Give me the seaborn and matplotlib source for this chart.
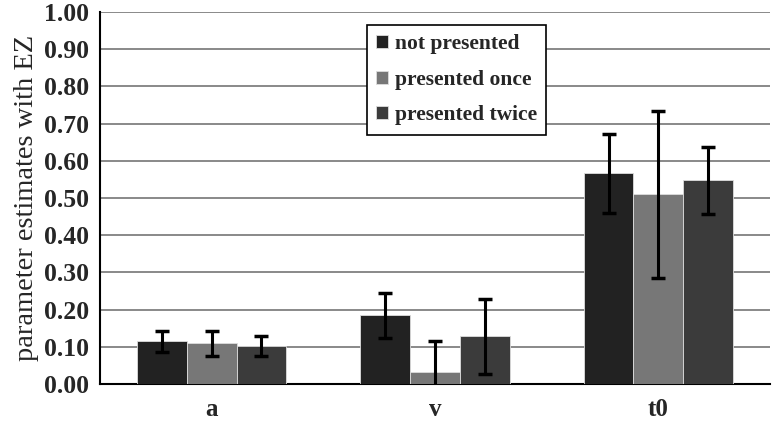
import numpy as np
import pandas as pd
import matplotlib
matplotlib.use("Agg")
import matplotlib.pyplot as plt
import seaborn as sns

# values
params = ["a", "v", "t0"]
conditions = ["not presented", "presented once", "presented twice"]
not_presented = [0.115, 0.185, 0.566]
presented_once = [0.110, 0.032, 0.510]
presented_twice = [0.102, 0.128, 0.548]
err_not = [0.028, 0.060, 0.105]
err_once = [0.034, 0.085, 0.225]
err_twice = [0.026, 0.100, 0.090]
yticks = [0.0, 0.1, 0.2, 0.3, 0.4, 0.5, 0.6, 0.7, 0.8, 0.9, 1.0]

colors = ["#222222", "#777777", "#3b3b3b"]

df = pd.DataFrame({
    "param": params * 3,
    "condition": [c for c in conditions for _ in params],
    "value": not_presented + presented_once + presented_twice,
    "err": err_not + err_once + err_twice,
})

sns.set_style("white")
plt.rcParams["font.family"] = ["Liberation Serif", "DejaVu Serif"]

fig = plt.figure(figsize=(7.74, 4.24), dpi=100)
ax = fig.add_axes([0.129, 0.094, 0.866, 0.878])

sns.barplot(data=df, x="param", y="value", hue="condition", order=params,
            hue_order=conditions, palette=colors, width=0.67, errorbar=None,
            edgecolor="#dddddd", linewidth=0.6, ax=ax, zorder=3)

# custom error bars at the bar centres
for cont, cond in zip(ax.containers, conditions):
    sub = df[df["condition"] == cond].set_index("param").loc[params]
    xs = [p.get_x() + p.get_width() / 2 for p in cont.patches]
    ax.errorbar(xs, sub["value"], yerr=sub["err"], fmt="none", ecolor="black",
                elinewidth=2.2, capsize=5, capthick=2.5, zorder=4)

ax.set_ylim(0, 1.0)
ax.set_xlim(-0.5, 2.5)
ax.set_yticks(yticks)
ax.set_yticklabels([f"{t:.2f}" for t in yticks], fontsize=18.5, fontweight="bold")
ax.yaxis.grid(True, color="#808080", linewidth=1.3, zorder=0)
ax.set_axisbelow(True)

ax.set_xticks(range(len(params)))
ax.set_xticklabels(params, fontsize=18, fontweight="bold")
ax.tick_params(axis="x", which="major", length=0, pad=10)
ax.set_xticks([-0.5, 0.5, 1.5, 2.5], minor=True)
ax.tick_params(axis="x", which="minor", length=6, width=1.5, direction="out", color="black")
ax.tick_params(axis="y", length=6, width=1.5, direction="out", color="black", pad=2)

for side in ["top", "right"]:
    ax.spines[side].set_visible(False)
for side in ["left", "bottom"]:
    ax.spines[side].set_color("black")
    ax.spines[side].set_linewidth(1.5)

ax.set_xlabel("")
ax.set_ylabel("parameter estimates with EZ", fontsize=20.5, labelpad=3)

leg = ax.legend(loc="upper left", bbox_to_anchor=(0.398, 0.966), frameon=True,
                fancybox=False, edgecolor="black", framealpha=1,
                prop={"size": 15.5, "weight": "bold"}, handlelength=0.55,
                handleheight=0.55, handletextpad=0.3, labelspacing=0.72,
                borderpad=0.45, borderaxespad=0)
leg.get_frame().set_linewidth(1.2)

fig.savefig("out.png", dpi=100)
